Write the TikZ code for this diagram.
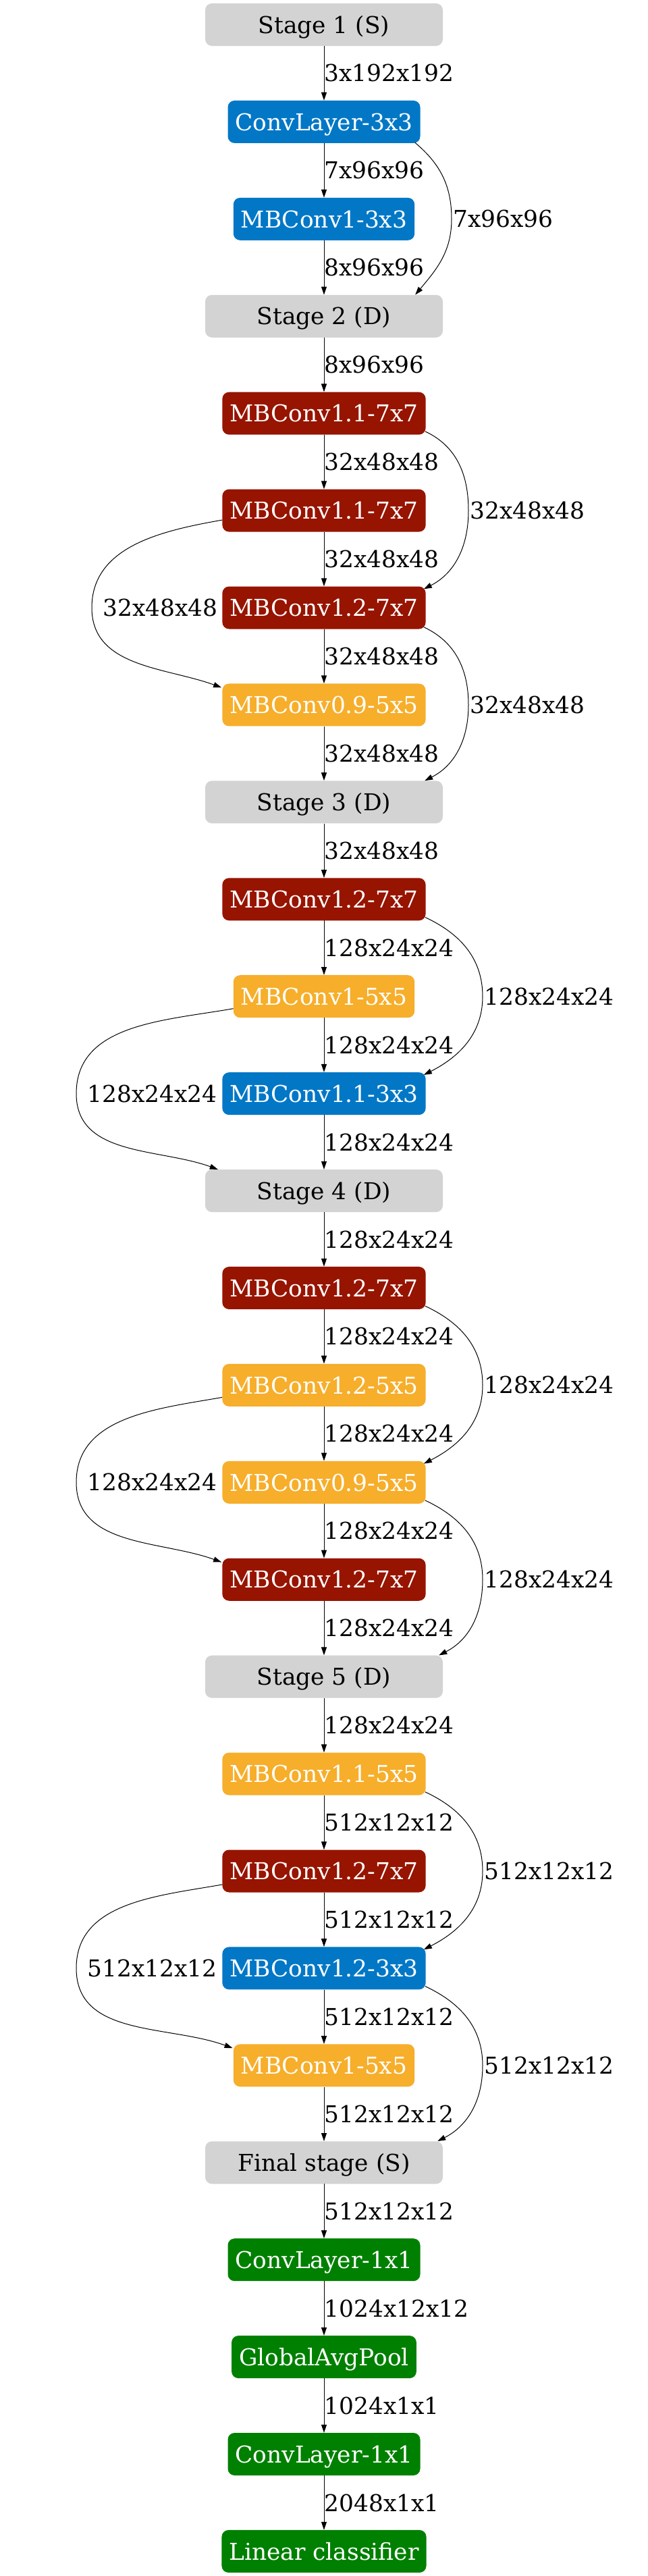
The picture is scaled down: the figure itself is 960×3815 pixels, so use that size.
\documentclass[tikz,border=0pt]{standalone}
\usepackage{fontspec}
\setmainfont{DejaVu Serif}
\usetikzlibrary{arrows.meta,calc}
\definecolor{stgray}{HTML}{D3D3D3}
\definecolor{mbblue}{HTML}{0277C6}
\definecolor{mbred}{HTML}{961400}
\definecolor{mborange}{HTML}{F6AE2B}
\definecolor{mbgreen}{HTML}{008000}
\begin{document}
\begin{tikzpicture}[x=1pt,y=1pt,
  every node/.style={font=\fontsize{34.4}{41}\selectfont},
  blk/.style={rectangle, rounded corners=10pt, minimum height=63pt, inner xsep=11pt, inner ysep=0pt, text height=25.4pt, text depth=0pt, text=white},
  stagebox/.style={blk, fill=stgray, text=black, minimum width=352pt},
  bluebox/.style={blk, fill=mbblue},
  redbox/.style={blk, fill=mbred},
  orangebox/.style={blk, fill=mborange},
  greenbox/.style={blk, fill=mbgreen},
  conn/.style={draw=black, line width=1pt, -{Triangle[length=12pt,width=8pt]}},
  lbl/.style={inner sep=0pt, anchor=west, text=black},
]
\useasboundingbox (0,0) rectangle (960,-3815);

\node[stagebox]  (n1)  at (480,-36.5)   {Stage 1 (S)};
\node[bluebox]   (n2)  at (480,-180.42) {ConvLayer-3x3};
\node[bluebox]   (n3)  at (480,-324.34) {MBConv1-3x3};
\node[stagebox]  (n4)  at (480,-468.26) {Stage 2 (D)};
\node[redbox]    (n5)  at (480,-612.18) {MBConv1.1-7x7};
\node[redbox]    (n6)  at (480,-756.10) {MBConv1.1-7x7};
\node[redbox]    (n7)  at (480,-900.02) {MBConv1.2-7x7};
\node[orangebox] (n8)  at (480,-1043.94) {MBConv0.9-5x5};
\node[stagebox]  (n9)  at (480,-1187.86) {Stage 3 (D)};
\node[redbox]    (n10) at (480,-1331.78) {MBConv1.2-7x7};
\node[orangebox] (n11) at (480,-1475.70) {MBConv1-5x5};
\node[bluebox]   (n12) at (480,-1619.62) {MBConv1.1-3x3};
\node[stagebox]  (n13) at (480,-1763.54) {Stage 4 (D)};
\node[redbox]    (n14) at (480,-1907.46) {MBConv1.2-7x7};
\node[orangebox] (n15) at (480,-2051.38) {MBConv1.2-5x5};
\node[orangebox] (n16) at (480,-2195.30) {MBConv0.9-5x5};
\node[redbox]    (n17) at (480,-2339.22) {MBConv1.2-7x7};
\node[stagebox]  (n18) at (480,-2483.14) {Stage 5 (D)};
\node[orangebox] (n19) at (480,-2627.06) {MBConv1.1-5x5};
\node[redbox]    (n20) at (480,-2770.98) {MBConv1.2-7x7};
\node[bluebox]   (n21) at (480,-2914.90) {MBConv1.2-3x3};
\node[orangebox] (n22) at (480,-3058.82) {MBConv1-5x5};
\node[stagebox]  (n23) at (480,-3202.74) {Final stage (S)};
\node[greenbox]  (n24) at (480,-3346.66) {ConvLayer-1x1};
\node[greenbox]  (n25) at (480,-3490.58) {GlobalAvgPool};
\node[greenbox]  (n26) at (480,-3634.50) {ConvLayer-1x1};
\node[greenbox]  (n27) at (480,-3778.42) {Linear classifier};

% main column
\foreach \a/\b/\t in {n1/n2/3x192x192, n2/n3/7x96x96, n3/n4/8x96x96, n4/n5/8x96x96,
  n5/n6/32x48x48, n6/n7/32x48x48, n7/n8/32x48x48, n8/n9/32x48x48, n9/n10/32x48x48,
  n10/n11/128x24x24, n11/n12/128x24x24, n12/n13/128x24x24, n13/n14/128x24x24,
  n14/n15/128x24x24, n15/n16/128x24x24, n16/n17/128x24x24, n17/n18/128x24x24,
  n18/n19/128x24x24, n19/n20/512x12x12, n20/n21/512x12x12, n21/n22/512x12x12,
  n22/n23/512x12x12, n23/n24/512x12x12, n24/n25/1024x12x12, n25/n26/1024x1x1,
  n26/n27/2048x1x1}
  \draw[conn] (\a) -- node[lbl] {\t} (\b);

% right skip connections
\draw[conn] ([xshift=-8pt,yshift=1pt]n2.south east) to[out=-40,in=90] ($(n3)+(189,0)$)
  to[out=-90,in=50] node[lbl,pos=0,xshift=2pt] {7x96x96} ([xshift=-41pt]n4.north east);
\draw[conn] ([xshift=-1pt,yshift=5pt]n5.south east) to[out=-25,in=90] ($(n6)+(214,0)$)
  to[out=-90,in=27] node[lbl,pos=0,xshift=2pt] {32x48x48} ([xshift=-3pt,yshift=-4pt]n7.north east);
\draw[conn] ([xshift=-3pt,yshift=3pt]n7.south east) to[out=-25,in=90] ($(n8)+(214,0)$)
  to[out=-90,in=27] node[lbl,pos=0,xshift=2pt] {32x48x48} ([xshift=-27pt]n9.north east);
\draw[conn] ([xshift=-1pt,yshift=5pt]n10.south east) to[out=-25,in=90] ($(n11)+(235,0)$)
  to[out=-90,in=27] node[lbl,pos=0,xshift=2pt] {128x24x24} ([xshift=-3pt,yshift=-4pt]n12.north east);
\draw[conn] ([xshift=-1pt,yshift=5pt]n14.south east) to[out=-25,in=90] ($(n15)+(235,0)$)
  to[out=-90,in=27] node[lbl,pos=0,xshift=2pt] {128x24x24} ([xshift=-3pt,yshift=-4pt]n16.north east);
\draw[conn] ([xshift=-1pt,yshift=5pt]n16.south east) to[out=-25,in=90] ($(n17)+(235,0)$)
  to[out=-90,in=27] node[lbl,pos=0,xshift=2pt] {128x24x24} ([xshift=-6pt]n18.north east);
\draw[conn] ([xshift=-1pt,yshift=5pt]n19.south east) to[out=-25,in=90] ($(n20)+(235,0)$)
  to[out=-90,in=27] node[lbl,pos=0,xshift=2pt] {512x12x12} ([xshift=-3pt,yshift=-4pt]n21.north east);
\draw[conn] ([xshift=-1pt,yshift=5pt]n21.south east) to[out=-25,in=90] ($(n22)+(235,0)$)
  to[out=-90,in=27] node[lbl,pos=0,xshift=2pt] {512x12x12} ([xshift=-8pt]n23.north east);

% left skip connections
\draw[conn] ([yshift=-14pt]n6.west) to[out=190,in=90] ($(n7)+(-344,0)$)
  to[out=-90,in=160] node[lbl,pos=0,xshift=16pt] {32x48x48} ([xshift=-1pt,yshift=-6pt]n8.north west);
\draw[conn] ([yshift=-18pt]n11.west) to[out=190,in=90] ($(n12)+(-367,0)$)
  to[out=-90,in=160] node[lbl,pos=0,xshift=16pt] {128x24x24} ([xshift=19pt]n13.north west);
\draw[conn] ([yshift=-18pt]n15.west) to[out=190,in=90] ($(n16)+(-367,0)$)
  to[out=-90,in=160] node[lbl,pos=0,xshift=16pt] {128x24x24} ([xshift=-1pt,yshift=-6pt]n17.north west);
\draw[conn] ([yshift=-20pt]n20.west) to[out=190,in=90] ($(n21)+(-367,0)$)
  to[out=-90,in=160] node[lbl,pos=0,xshift=16pt] {512x12x12} ([xshift=-1pt,yshift=-6pt]n22.north west);
\end{tikzpicture}
\end{document}
